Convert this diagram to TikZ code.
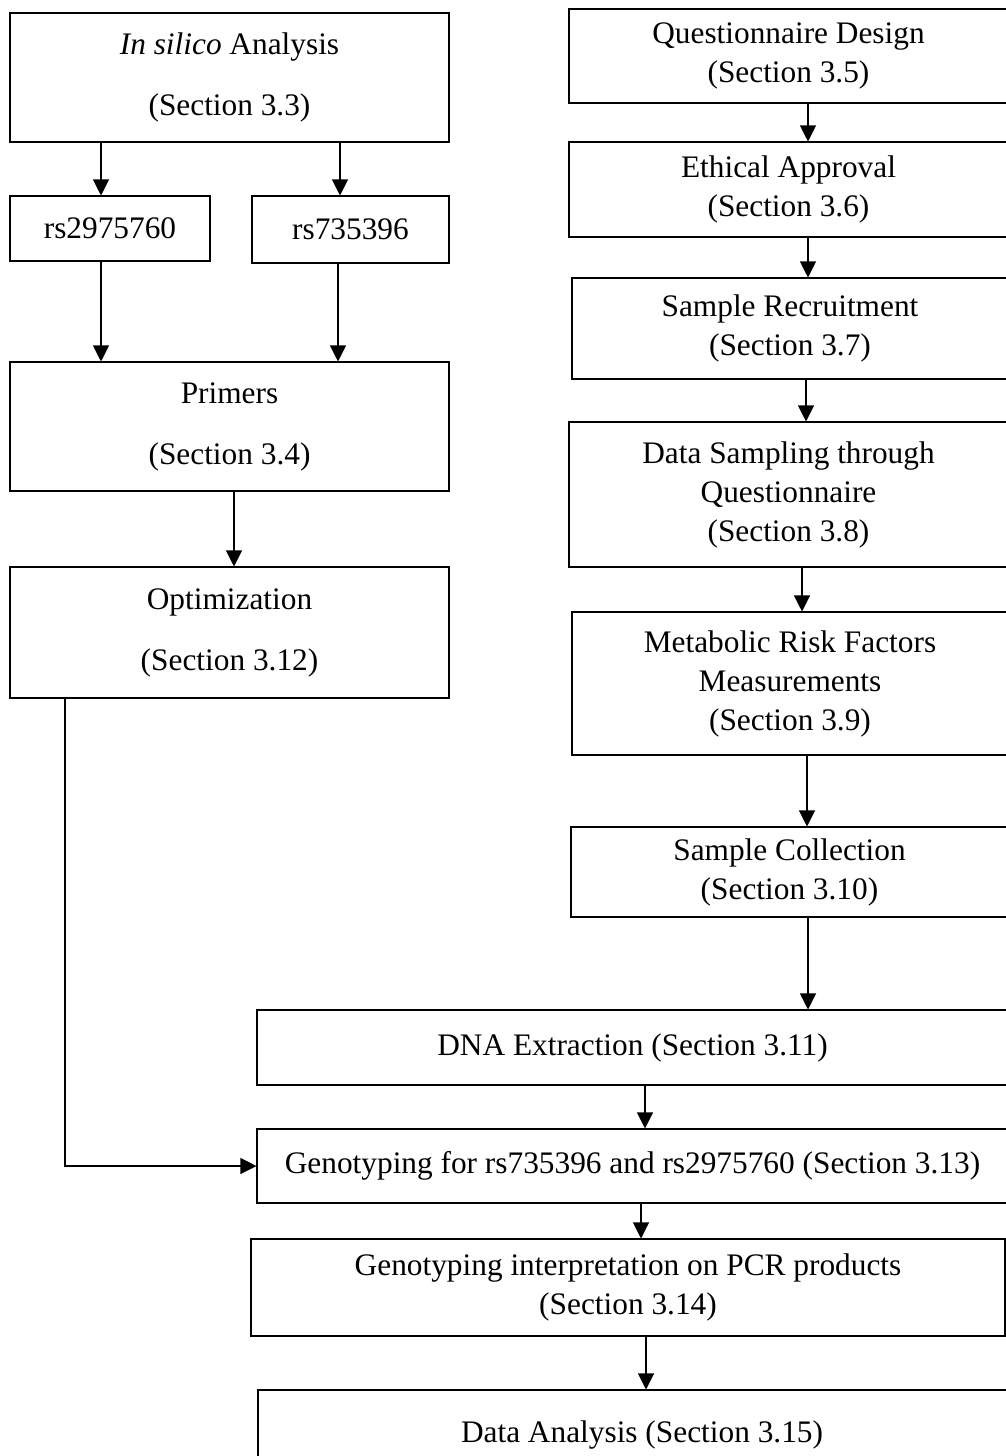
\documentclass[tikz,border=0pt]{standalone}
\usepackage{fontspec}
\setmainfont{Liberation Serif}
\usetikzlibrary{arrows.meta}
\begin{document}
\begin{tikzpicture}[x=0.75pt,y=-0.75pt,
  box/.style={draw, line width=0.8pt, rectangle, inner sep=0pt, align=center,
    font=\fontsize{23.5}{29.25}\selectfont},
  arr/.style={line width=0.8pt, -{Triangle[length=12pt,width=12pt]}}]
\useasboundingbox (0,0) rectangle (1006,1456);
% left column
\node[box, minimum width=329.25pt, minimum height=96.75pt] (insilico) at (229.5,77.5)
  {\textit{In silico} Analysis\\[16.5pt](Section 3.3)};
\node[box, minimum width=150pt, minimum height=48.75pt] (rsA) at (110,228.5) {rs2975760};
\node[box, minimum width=147.75pt, minimum height=50.25pt] (rsB) at (350.5,229.5) {rs735396};
\node[box, minimum width=329.25pt, minimum height=96.75pt] (primers) at (229.5,426.5)
  {Primers\\[16.5pt](Section 3.4)};
\node[box, minimum width=329.25pt, minimum height=98.25pt] (optim) at (229.5,632.5)
  {Optimization\\[16.5pt](Section 3.12)};
% right column
\node[box, minimum width=329.25pt, minimum height=70.5pt] (quest) at (788.5,56)
  {Questionnaire Design\\(Section 3.5)};
\node[box, minimum width=329.25pt, minimum height=71.25pt] (ethic) at (788.5,189.5)
  {Ethical Approval\\(Section 3.6)};
\node[box, minimum width=327pt, minimum height=75.75pt] (recruit) at (790,328.5)
  {Sample Recruitment\\(Section 3.7)};
\node[box, minimum width=329.25pt, minimum height=108.75pt] (datasamp) at (788.5,494.5)
  {Data Sampling through\\Questionnaire\\(Section 3.8)};
\node[box, minimum width=327pt, minimum height=107.25pt] (metab) at (790,683.5)
  {Metabolic Risk Factors\\Measurements\\(Section 3.9)};
\node[box, minimum width=327.75pt, minimum height=67.5pt] (collect) at (789.5,872)
  {Sample Collection\\(Section 3.10)};
% bottom
\node[box, minimum width=563.25pt, minimum height=56.25pt] (dna) at (632.5,1047.5)
  {DNA Extraction (Section 3.11)};
\node[box, minimum width=563.25pt, minimum height=55.5pt] (geno) at (632.5,1166)
  {Genotyping for rs735396 and rs2975760 (Section 3.13)};
\node[box, minimum width=565.5pt, minimum height=72.75pt] (interp) at (628,1287.5)
  {Genotyping interpretation on PCR products\\(Section 3.14)};
\node[box, minimum width=576pt, minimum height=67.5pt] (data) at (642,1435)
  {Data Analysis (Section 3.15)};
% connector x positions
\coordinate (xa) at (101,0);
\coordinate (xb) at (340,0);
\coordinate (xb2) at (338,0);
\coordinate (xc) at (234,0);
\coordinate (xd) at (65,0);
\coordinate (xr1) at (808,0);
\coordinate (xr2) at (806,0);
\coordinate (xr3) at (802,0);
\coordinate (xr4) at (807,0);
\coordinate (xe) at (645,0);
\coordinate (xf) at (641,0);
\coordinate (xg) at (646,0);
% connectors
\draw[arr] (insilico.south -| xa) -- (rsA.north -| xa);
\draw[arr] (insilico.south -| xb) -- (rsB.north -| xb);
\draw[arr] (rsA.south -| xa) -- (primers.north -| xa);
\draw[arr] (rsB.south -| xb2) -- (primers.north -| xb2);
\draw[arr] (primers.south -| xc) -- (optim.north -| xc);
\draw[arr] (optim.south -| xd) |- (geno.west);
\draw[arr] (quest.south -| xr1) -- (ethic.north -| xr1);
\draw[arr] (ethic.south -| xr1) -- (recruit.north -| xr1);
\draw[arr] (recruit.south -| xr2) -- (datasamp.north -| xr2);
\draw[arr] (datasamp.south -| xr3) -- (metab.north -| xr3);
\draw[arr] (metab.south -| xr4) -- (collect.north -| xr4);
\draw[arr] (collect.south -| xr1) -- (dna.north -| xr1);
\draw[arr] (dna.south -| xe) -- (geno.north -| xe);
\draw[arr] (geno.south -| xf) -- (interp.north -| xf);
\draw[arr] (interp.south -| xg) -- (data.north -| xg);
\end{tikzpicture}
\end{document}
